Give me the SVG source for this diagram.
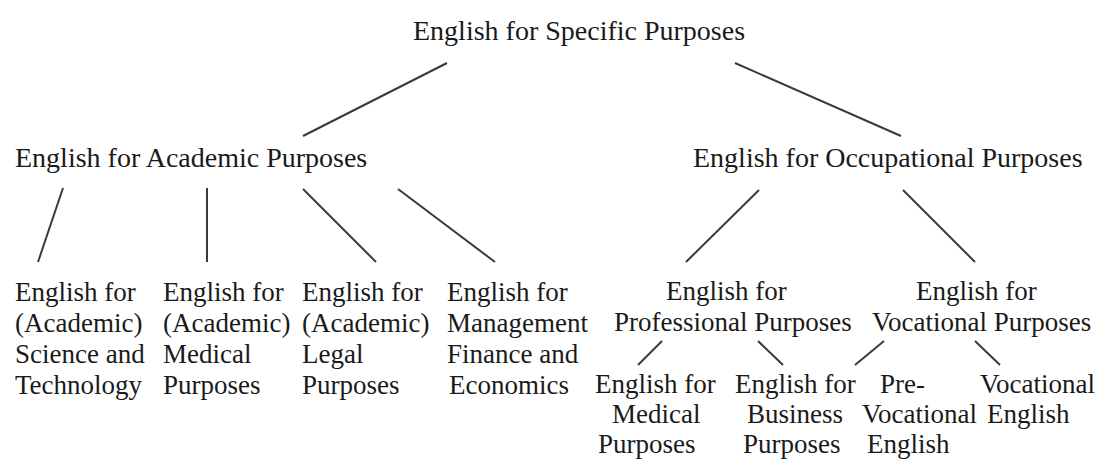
<svg xmlns="http://www.w3.org/2000/svg" width="1107" height="461" viewBox="0 0 1107 461">
<style>
text{font-family:"Liberation Serif","Times New Roman",serif;fill:#1a1a1a}
.l1{font-size:28px}
.l3{font-size:27px}
#connectors line{stroke:#3a3a3a;stroke-width:2;fill:none}
</style>
<rect width="1107" height="461" fill="#ffffff"/>
<g id="connectors">
<line x1="447" y1="63" x2="303" y2="136"/>
<line x1="735" y1="63" x2="901" y2="136"/>
<line x1="63" y1="188" x2="38" y2="262"/>
<line x1="207" y1="188" x2="207" y2="262"/>
<line x1="303" y1="189" x2="376" y2="262"/>
<line x1="398" y1="189" x2="495" y2="262"/>
<line x1="759" y1="190" x2="686" y2="262"/>
<line x1="903" y1="190" x2="975" y2="262"/>
<line x1="662" y1="341" x2="638" y2="365"/>
<line x1="758" y1="341" x2="783" y2="365"/>
<line x1="884" y1="341" x2="855" y2="365"/>
<line x1="975" y1="341" x2="1000" y2="365"/>
</g>
<g id="esp"><text class="l1" x="413" y="40">English for Specific Purposes</text></g>
<g id="eap"><text class="l1" x="15" y="167">English for Academic Purposes</text></g>
<g id="eop"><text class="l1" x="693" y="167">English for Occupational Purposes</text></g>
<g id="est" class="l3"><text x="15" y="301">English for</text><text x="15" y="332">(Academic)</text><text x="15" y="363">Science and</text><text x="15" y="394">Technology</text></g>
<g id="emp-academic" class="l3"><text x="163" y="301">English for</text><text x="163" y="332">(Academic)</text><text x="163" y="363">Medical</text><text x="163" y="394">Purposes</text></g>
<g id="elp" class="l3"><text x="302" y="301">English for</text><text x="302" y="332">(Academic)</text><text x="302" y="363">Legal</text><text x="302" y="394">Purposes</text></g>
<g id="emfe" class="l3"><text x="447" y="301">English for</text><text x="447" y="332">Management</text><text x="447" y="363">Finance and</text><text x="449" y="394">Economics</text></g>
<g id="epp" class="l3"><text x="666" y="300">English for</text><text x="614" y="331">Professional Purposes</text></g>
<g id="evp" class="l3"><text x="916" y="300">English for</text><text x="872" y="331">Vocational Purposes</text></g>
<g id="emp" class="l3"><text x="595" y="393">English for</text><text x="612" y="423">Medical</text><text x="598" y="453">Purposes</text></g>
<g id="ebp" class="l3"><text x="735" y="393">English for</text><text x="747" y="423">Business</text><text x="743" y="453">Purposes</text></g>
<g id="pve" class="l3"><text x="880" y="393">Pre-</text><text x="862" y="423">Vocational</text><text x="867" y="453">English</text></g>
<g id="ve" class="l3"><text x="980" y="393">Vocational</text><text x="987" y="423">English</text></g>
</svg>
